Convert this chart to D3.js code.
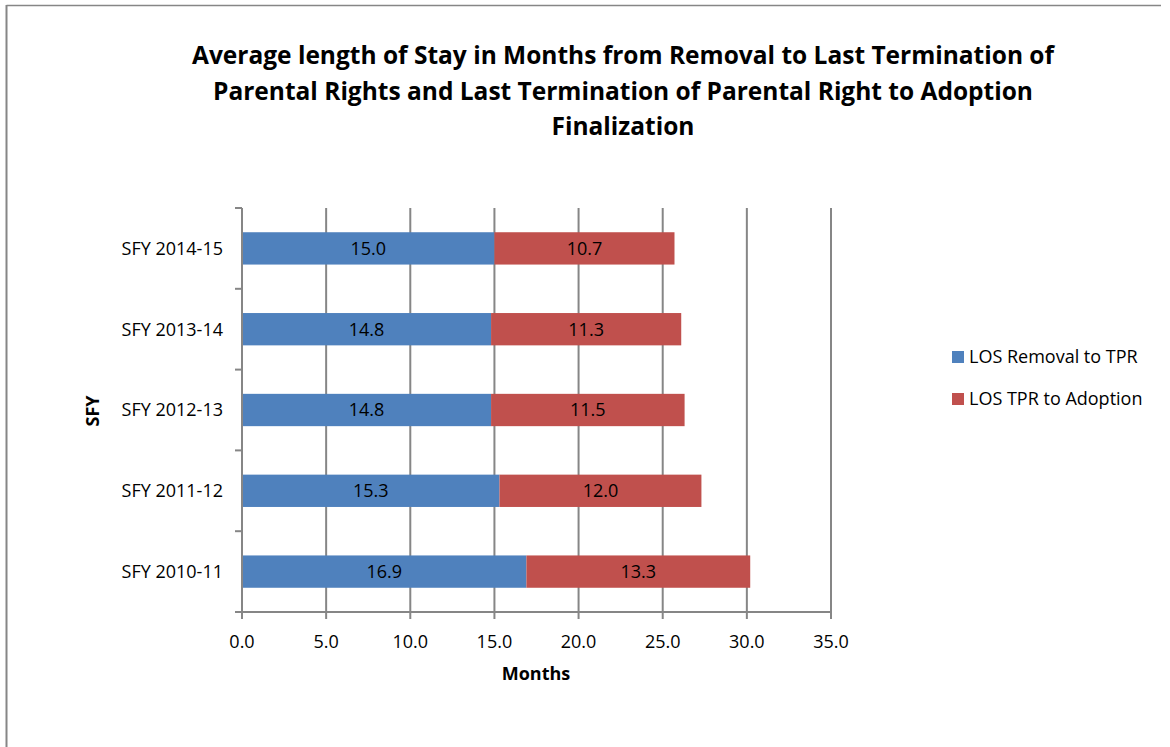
<!DOCTYPE html>
<html>
<head>
<meta charset="utf-8">
<script src="https://d3js.org/d3.v7.min.js"></script>
<style>
  body { margin: 0; background: #fff; }
  text { font-family: "Open Sans", Lato, sans-serif; fill: #000; }
</style>
</head>
<body>
<div id="chart"></div>
<script>
const frame_width = 1170;
const frame_height = 747;

// data
const categories = ["SFY 2010-11", "SFY 2011-12", "SFY 2012-13", "SFY 2013-14", "SFY 2014-15"];
const removalToTPR = [16.9, 15.3, 14.8, 14.8, 15.0];
const tprToAdoption = [13.3, 12.0, 11.5, 11.3, 10.7];
const seriesNames = ["LOS Removal to TPR", "LOS TPR to Adoption"];
const seriesColors = ["#4F81BD", "#C0504D"];
const xTicks = [0, 5, 10, 15, 20, 25, 30, 35];
const titleLines = [
    "Average length of Stay in Months from Removal to Last Termination of",
    "Parental Rights and Last Termination of Parental Right to Adoption",
    "Finalization"
];

const plot = {left: 242, right: 831, top: 208, bottom: 612};
const labelSize = "18px";

const svg = d3.select("#chart")
    .append("svg")
        .attr("width", frame_width)
        .attr("height", frame_height);

// outer frame (top + left edges visible)
svg.append("line")
    .attr("x1", 6.5).attr("y1", 5.5).attr("x2", 1161).attr("y2", 5.5)
    .attr("stroke", "#868686").attr("stroke-width", 1.5);
svg.append("line")
    .attr("x1", 6.5).attr("y1", 5).attr("x2", 6.5).attr("y2", frame_height)
    .attr("stroke", "#868686").attr("stroke-width", 2);

// title
svg.append("text")
    .attr("text-anchor", "middle")
    .style("font-weight", "bold")
    .style("font-size", "24.5px")
    .selectAll("tspan")
    .data(titleLines)
    .enter()
    .append("tspan")
        .attr("x", 623)
        .attr("y", (d, i) => 64 + i * 35.5)
        .text(d => d);

const X_SCALE = d3.scaleLinear()
    .domain([0, 35])
    .range([plot.left, plot.right]);

// reverse so 2010-11 sits at bottom
const Y_SCALE = d3.scaleBand()
    .domain(categories.slice().reverse())
    .range([plot.top, plot.bottom])
    .paddingInner(0.6)
    .paddingOuter(0.3);

// vertical gridlines
svg.append("g")
    .selectAll("line")
    .data(xTicks.slice(1))
    .enter()
    .append("line")
        .attr("x1", d => X_SCALE(d)).attr("x2", d => X_SCALE(d))
        .attr("y1", plot.top).attr("y2", plot.bottom)
        .attr("stroke", "#868686").attr("stroke-width", 2);

// bars
const rows = categories.map((c, i) => ({cat: c, a: removalToTPR[i], b: tprToAdoption[i]}));
const segs = [];
rows.forEach(r => {
    segs.push({cat: r.cat, x0: 0, x1: r.a, v: r.a, s: 0});
    segs.push({cat: r.cat, x0: r.a, x1: r.a + r.b, v: r.b, s: 1});
});

svg.append("g")
    .selectAll("rect")
    .data(segs)
    .enter()
    .append("rect")
        .attr("x", d => X_SCALE(d.x0))
        .attr("y", d => Y_SCALE(d.cat))
        .attr("width", d => X_SCALE(d.x1) - X_SCALE(d.x0))
        .attr("height", Y_SCALE.bandwidth())
        .attr("fill", d => seriesColors[d.s]);

svg.append("g")
    .selectAll("text")
    .data(segs)
    .enter()
    .append("text")
        .attr("x", d => (X_SCALE(d.x0) + X_SCALE(d.x1)) / 2)
        .attr("y", d => Y_SCALE(d.cat) + Y_SCALE.bandwidth() / 2)
        .attr("dy", "0.35em")
        .attr("text-anchor", "middle")
        .style("font-size", labelSize)
        .text(d => d.v.toFixed(1));

// y axis
const yAxis = svg.append("g")
    .attr("transform", "translate(" + plot.left + ",0)");
yAxis.append("line")
    .attr("x1", 0).attr("x2", 0).attr("y1", plot.top).attr("y2", plot.bottom)
    .attr("stroke", "#868686").attr("stroke-width", 2);
const step = (plot.bottom - plot.top) / categories.length;
yAxis.selectAll("line.tick")
    .data(d3.range(categories.length + 1))
    .enter()
    .append("line")
        .attr("class", "tick")
        .attr("x1", -7).attr("x2", 0)
        .attr("y1", d => plot.top + d * step).attr("y2", d => plot.top + d * step)
        .attr("stroke", "#868686").attr("stroke-width", 2);
yAxis.selectAll("text")
    .data(categories)
    .enter()
    .append("text")
        .attr("x", -19)
        .attr("y", d => Y_SCALE(d) + Y_SCALE.bandwidth() / 2)
        .attr("dy", "0.35em")
        .attr("text-anchor", "end")
        .style("font-size", labelSize)
        .text(d => d);

// x axis
const xAxis = svg.append("g")
    .attr("transform", "translate(0," + plot.bottom + ")");
xAxis.append("line")
    .attr("x1", plot.left - 7).attr("x2", plot.right).attr("y1", 0).attr("y2", 0)
    .attr("stroke", "#868686").attr("stroke-width", 2);
xAxis.selectAll("line.tick")
    .data(xTicks)
    .enter()
    .append("line")
        .attr("class", "tick")
        .attr("x1", d => X_SCALE(d)).attr("x2", d => X_SCALE(d))
        .attr("y1", 0).attr("y2", 7)
        .attr("stroke", "#868686").attr("stroke-width", 2);
xAxis.selectAll("text")
    .data(xTicks)
    .enter()
    .append("text")
        .attr("x", d => X_SCALE(d))
        .attr("y", 36)
        .attr("text-anchor", "middle")
        .style("font-size", labelSize)
        .text(d => d.toFixed(1));

// axis titles
svg.append("text")
    .attr("x", 536).attr("y", 680)
    .attr("text-anchor", "middle")
    .style("font-weight", "bold")
    .style("font-size", labelSize)
    .text("Months");

svg.append("text")
    .attr("transform", "translate(99,411) rotate(-90)")
    .attr("text-anchor", "middle")
    .style("font-weight", "bold")
    .style("font-size", labelSize)
    .text("SFY");

// legend
const legend = svg.append("g")
    .selectAll("g")
    .data(seriesNames)
    .enter()
    .append("g")
        .attr("transform", (d, i) => "translate(952," + (357 + i * 42) + ")");
legend.append("rect")
    .attr("x", 0).attr("y", -6).attr("width", 12).attr("height", 12)
    .attr("fill", (d, i) => seriesColors[i]);
legend.append("text")
    .attr("x", 17).attr("y", 0)
    .attr("dy", "0.35em")
    .style("font-size", labelSize)
    .text(d => d);
</script>
</body>
</html>
